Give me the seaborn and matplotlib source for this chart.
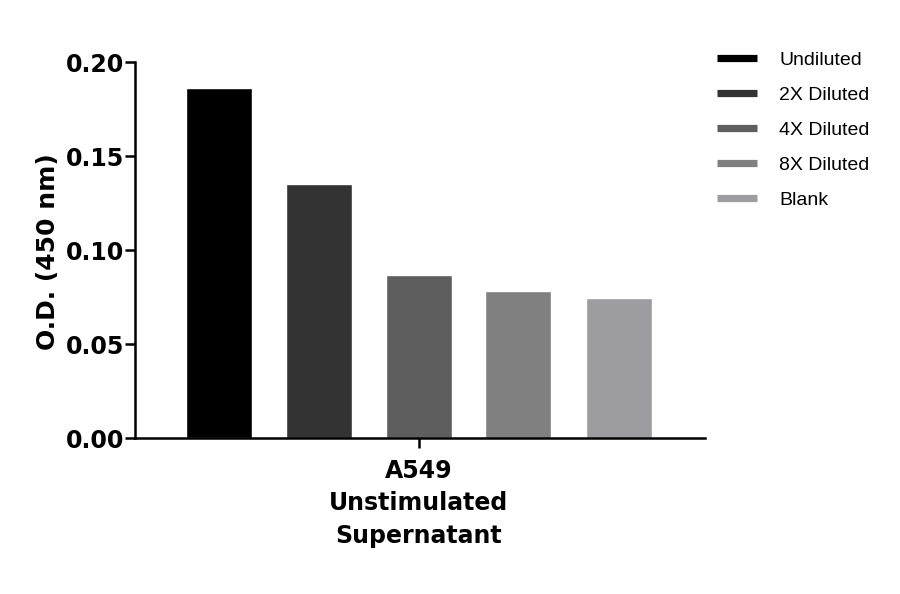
import matplotlib
matplotlib.use("Agg")
import matplotlib.pyplot as plt
from matplotlib.lines import Line2D
import seaborn as sns
import pandas as pd

groups = ["A549\nUnstimulated\nSupernatant"]
dilutions = ["Undiluted", "2X Diluted", "4X Diluted", "8X Diluted", "Blank"]
od_values = [0.186, 0.135, 0.0865, 0.078, 0.0745]
colors = ["#000000", "#333333", "#5e5e5e", "#808080", "#9d9da1"]
y_ticks = [0.00, 0.05, 0.10, 0.15, 0.20]

df = pd.DataFrame({
    "group": groups * len(dilutions),
    "dilution": dilutions,
    "od": od_values,
})

sns.set_style("ticks")
plt.rcParams["font.family"] = ["DejaVu Sans"]

fig = plt.figure(figsize=(9, 5.94), dpi=100)
ax = fig.add_axes([135/900, 1 - 438/594, (705-135)/900, (438-62)/594])

sns.barplot(data=df, x="group", y="od", hue="dilution", hue_order=dilutions,
            palette=colors, saturation=1, width=0.8, gap=0.34,
            legend=False, ax=ax, errorbar=None)

ax.set_ylim(0, 0.20)
ax.set_yticks(y_ticks)
ax.set_yticklabels([f"{v:.2f}" for v in y_ticks], fontsize=17, fontweight="bold", color="black")
D = 625.0
ax.set_xlim(-(418.5 - 135) / D, (705 - 418.5) / D)
ax.set_xticks([0])
ax.set_xticklabels(groups, fontsize=17, fontweight="bold", linespacing=1.45, color="black")
ax.set_xlabel("")
ax.set_ylabel("O.D. (450 nm)", fontsize=18, fontweight="bold", color="black")
ax.yaxis.set_label_coords(-0.131, 0.496)

for s in ["top", "right"]:
    ax.spines[s].set_visible(False)
for s in ["left", "bottom"]:
    ax.spines[s].set_linewidth(1.8)
    ax.spines[s].set_color("black")
ax.tick_params(axis="both", length=7, width=1.8, color="black", labelcolor="black")
ax.tick_params(axis="y", pad=1)
ax.tick_params(axis="x", pad=8)

handles = [Line2D([0], [0], color=c, lw=5.2, solid_capstyle="butt") for c in colors]
leg = fig.legend(handles, dilutions, loc="upper left",
                 bbox_to_anchor=(717/900, 1 - 51/594), frameon=False,
                 borderpad=0, borderaxespad=0, handlelength=2.06, handletextpad=1.13,
                 labelspacing=0.9,
                 prop={"family": "Liberation Sans", "size": 14})
for t in leg.get_texts():
    t.set_color("black")

fig.savefig("out.png", dpi=100, facecolor="white")
